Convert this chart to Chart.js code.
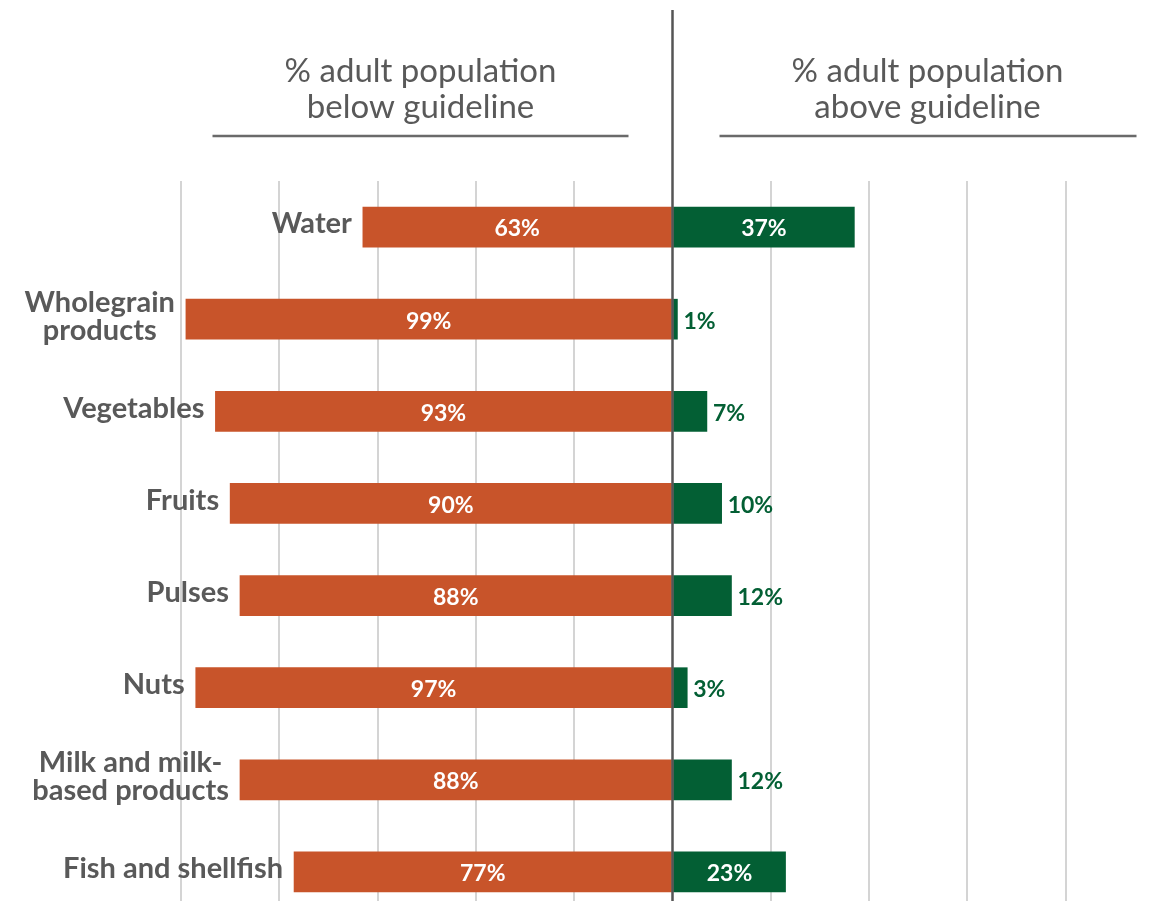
<!DOCTYPE html>
<html>
<head>
<meta charset="utf-8">
<title>Adult population vs dietary guidelines</title>
<script src="https://cdn.jsdelivr.net/npm/chart.js@4.4.1/dist/chart.umd.min.js"></script>
<style>
  html, body { margin: 0; padding: 0; background: #ffffff; overflow: hidden; }
  #guideline_chart { display: block; }
</style>
</head>
<body>
<canvas id="guideline_chart" width="1170" height="920"></canvas>
<script>
// food groups, top to bottom (arrays = wrapped lines)
const categories = [
    'Water',
    ['Wholegrain', 'products'],
    'Vegetables',
    'Fruits',
    'Pulses',
    'Nuts',
    ['Milk and milk-', 'based products'],
    'Fish and shellfish',
];
// % of adults below / above the guideline
const belowGuideline = [63, 99, 93, 90, 88, 97, 88, 77];
const aboveGuideline = [37, 1, 7, 10, 12, 3, 12, 23];

const headerBelow = ['% adult population', 'below guideline'];
const headerAbove = ['% adult population', 'above guideline'];

const ORANGE = '#c8542a';
const GREEN = '#035f34';
const GREY_TEXT = '#595959';
const FONT = 'Lato, "Open Sans", sans-serif';

// draws headers, centre line, category names and value labels
const divergingLabels = {
    id: 'divergingLabels',
    afterDatasetsDraw(chart) {
        const ctx = chart.ctx;
        const x = chart.scales.x;
        const zero = x.getPixelForValue(0);
        ctx.save();

        // column headers + underlines
        ctx.fillStyle = GREY_TEXT;
        ctx.font = '400 33px ' + FONT;
        ctx.textAlign = 'center';
        ctx.textBaseline = 'alphabetic';
        [[headerBelow, zero - 252], [headerAbove, zero + 255]].forEach(([lines, cx]) => {
            lines.forEach((line, i) => ctx.fillText(line, cx, 82 + i * 36));
        });
        ctx.strokeStyle = '#6a6a6a';
        ctx.lineWidth = 2.5;
        ctx.beginPath();
        ctx.moveTo(zero - 460, 136); ctx.lineTo(zero - 44, 136);
        ctx.moveTo(zero + 47, 136); ctx.lineTo(zero + 464, 136);
        ctx.stroke();

        // centre line
        ctx.strokeStyle = '#555555';
        ctx.lineWidth = 2.5;
        ctx.beginPath();
        ctx.moveTo(zero, 10);
        ctx.lineTo(zero, chart.height);
        ctx.stroke();

        // category names, right-aligned against the left end of each bar
        ctx.font = '700 29px ' + FONT;
        ctx.fillStyle = GREY_TEXT;
        ctx.textBaseline = 'middle';
        const lineH = 28;
        chart.getDatasetMeta(0).data.forEach((bar, i) => {
            const lines = [].concat(categories[i]);
            const left = Math.min(bar.x, bar.base);
            const blockW = Math.max(...lines.map(l => ctx.measureText(l).width));
            const cx = left - 11 - blockW / 2;
            const top = bar.y - 3 - (lines.length - 1) * lineH / 2;
            ctx.textAlign = 'center';
            lines.forEach((l, j) => ctx.fillText(l, cx, top + j * lineH));
        });

        // value labels
        ctx.font = '700 23px ' + FONT;
        chart.data.datasets.forEach((ds, d) => {
            chart.getDatasetMeta(d).data.forEach((bar, i) => {
                const txt = Math.abs(ds.data[i]) + '%';
                const w = Math.abs(bar.x - bar.base);
                const tw = ctx.measureText(txt).width;
                if (w >= tw + 20) {
                    ctx.fillStyle = '#ffffff';
                    ctx.textAlign = 'center';
                    ctx.fillText(txt, (bar.x + bar.base) / 2, bar.y + 2);
                } else {
                    ctx.fillStyle = GREEN;
                    ctx.textAlign = 'left';
                    ctx.fillText(txt, Math.max(bar.x, bar.base) + 6, bar.y + 2);
                }
            });
        });
        ctx.restore();
    }
};

const data = {
    labels: categories,
    datasets: [{
        label: 'below guideline',
        data: belowGuideline.map(v => -v),
        backgroundColor: ORANGE,
    }, {
        label: 'above guideline',
        data: aboveGuideline,
        backgroundColor: GREEN,
    }]
};

const config = {
    type: 'bar',
    data: data,
    options: {
        indexAxis: 'y',
        responsive: false,
        animation: false,
        layout: {
            padding: { top: 181, left: 181, right: 6, bottom: 2 }
        },
        barThickness: 40,
        plugins: {
            legend: { display: false },
            title: { display: false },
            tooltip: { enabled: false }
        },
        scales: {
            x: {
                stacked: true,
                min: -100,
                max: 100,
                border: { display: false },
                ticks: { display: false, stepSize: 20 },
                grid: {
                    drawTicks: false,
                    lineWidth: 2,
                    color: c => c.tick && c.tick.value === 0 ? 'rgba(0,0,0,0)' : '#d4d4d4'
                }
            },
            y: {
                stacked: true,
                display: false
            }
        }
    },
    plugins: [divergingLabels]
};

window.addEventListener('load', function () {
    new Chart(document.getElementById('guideline_chart'), config);
});
</script>
</body>
</html>
